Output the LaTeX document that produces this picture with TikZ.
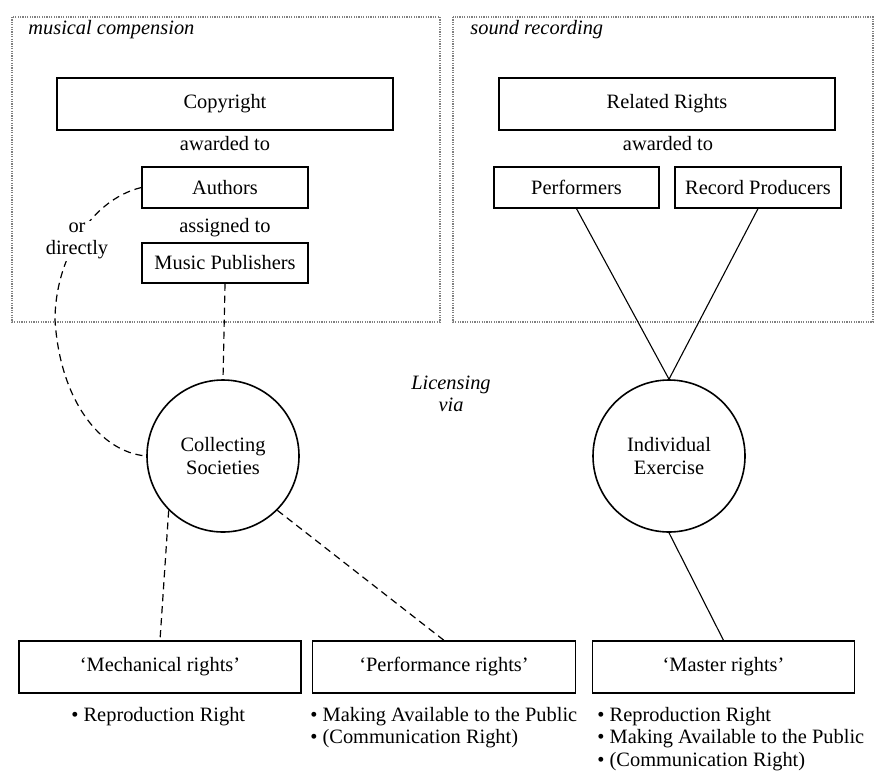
\documentclass[tikz,border=0pt]{standalone}
\usepackage{fontspec}
\setmainfont{Liberation Serif}

\begin{document}
\begin{tikzpicture}[x=0.5pt, y=-0.5pt,
	every node/.style={font=\fontsize{10.2}{11.2}\selectfont, inner sep=0pt},
	box/.style={draw, line width=0.65pt},
	ring/.style={draw, circle, line width=0.8pt, minimum size=76pt, align=center, font=\fontsize{10.2}{11.6}\selectfont},
	frame/.style={draw=gray, dash pattern=on 0.6pt off 0.6pt, line width=0.6pt},
	link/.style={dash pattern=on 3.6pt off 2.4pt, line width=0.6pt},
	wire/.style={line width=0.55pt}]
	\useasboundingbox (0,0) rectangle (876,771);
	
	\draw[frame] (12,17) rectangle (440,322);
	\draw[frame] (453,17) rectangle (873,322);
	\node[anchor=base west] (mc) at (28,34) {\itshape musical compension};
	\node[anchor=base west] (sr) at (470,34) {\itshape sound recording};
	
	\node[box, minimum width=168pt, minimum height=26pt] (copyright) at (225,104) {Copyright};
	\node[anchor=base] (aw1) at (225,150) {awarded to};
	\node[box, minimum width=83pt, minimum height=20.5pt] (authors) at (225,187.5) {Authors};
	\node[anchor=base] (as) at (225,232) {assigned to};
	\node[box, minimum width=83pt, minimum height=20pt] (publishers) at (225,263) {Music Publishers};
	
	\node[box, minimum width=168pt, minimum height=26pt] (related) at (667,104) {Related Rights};
	\node[anchor=base] (aw2) at (668,150) {awarded to};
	\node[box, minimum width=82.5pt, minimum height=20.5pt] (performers) at (576.5,187.5) {Performers};
	\node[box, minimum width=83pt, minimum height=20.5pt] (producers) at (758,187.5) {Record Producers};
	
	\node[ring] (collecting) at (223,456) {Collecting\\Societies};
	\node[ring] (individual) at (669,456) {Individual\\Exercise};
	\node[align=center, font=\fontsize{10.2}{11.2}\selectfont\itshape] (via) at (451,394) {Licensing\\via};
	
	\node[box, minimum width=141pt, minimum height=26pt] (mechanical) at (160,667) {‘Mechanical rights’};
	\node[box, minimum width=131.5pt, minimum height=26pt] (performance) at (444,667) {‘Performance rights’};
	\node[box, minimum width=131pt, minimum height=26pt] (master) at (723.5,667) {‘Master rights’};
	
	\node[anchor=base west] (mechlist) at (71,721) {\textbullet\ Reproduction Right};
	\node[anchor=north west, align=left] (perflist) at (310,707) {\textbullet\ Making Available to the Public\\\textbullet\ (Communication Right)};
	\node[anchor=north west, align=left] (masterlist) at (597,707) {\textbullet\ Reproduction Right\\\textbullet\ Making Available to the Public\\\textbullet\ (Communication Right)};
	
	% collective licensing
	\draw[link] (publishers.south) -- (collecting.north);
	\draw[link] (authors.west) .. controls (90,200) and (55,260) .. (55,320)
		.. controls (60,400) and (100,452) .. (collecting.west);
	\node[fill=white, align=center, inner sep=1pt] (ord) at (77,241) {or\\directly};
	\draw[link] (collecting.south west) -- (mechanical.north);
	\draw[link] (collecting.south east) -- (performance.north);
	
	% individual licensing
	\draw[wire] (performers.south) -- (individual.north);
	\draw[wire] (producers.south) -- (individual.north);
	\draw[wire] (individual.south) -- (master.north);
\end{tikzpicture}
\end{document}
